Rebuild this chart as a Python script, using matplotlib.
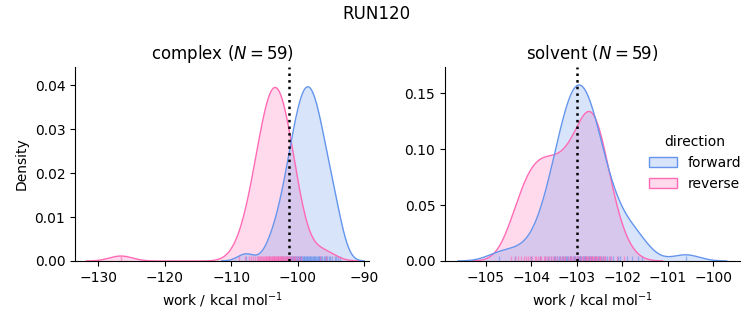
import numpy as np
import matplotlib
matplotlib.use("Agg")
import matplotlib.pyplot as plt
from matplotlib.patches import Patch
from matplotlib.transforms import blended_transform_factory

# ---------------- data (work values, kcal/mol) ----------------
complex_forward = [
    -107.8,
    -104.3, -103.57, -102.96, -102.54, -102.20, -101.91, -101.66, -101.44, -101.23, -101.05,
    -100.87, -100.70, -100.55, -100.40, -100.25, -100.11, -99.98, -99.85, -99.72, -99.60,
    -99.48, -99.36, -99.24, -99.12, -99.01, -98.90, -98.78, -98.67, -98.56,
    -98.44, -98.33, -98.22, -98.10, -97.99, -97.88, -97.76, -97.64, -97.52, -97.40,
    -97.28, -97.15, -97.02, -96.89, -96.75, -96.60, -96.45, -96.30, -96.13, -95.95,
    -95.77, -95.56, -95.34, -95.09, -94.80, -94.46, -94.2, -94.0, -93.7,
]
complex_reverse = [
    -126.6,
    -108.87, -107.89, -107.34, -106.97, -106.67, -106.42, -106.20, -106.00, -105.82, -105.65,
    -105.50, -105.35, -105.21, -105.08, -104.95, -104.83, -104.71, -104.60, -104.48, -104.37,
    -104.26, -104.16, -104.06, -103.95, -103.85, -103.75, -103.65, -103.55, -103.45,
    -103.35, -103.25, -103.15, -103.05, -102.95, -102.85, -102.74, -102.64, -102.54, -102.43,
    -102.32, -102.20, -102.09, -101.97, -101.85, -101.72, -101.59, -101.45, -101.30, -101.15,
    -100.98, -100.80, -100.60, -100.38, -100.13, -99.83, -99.46, -96.6, -95.8,
]
solvent_forward = [
    -104.72, -104.35,
    -104.00, -103.81, -103.70, -103.63, -103.56, -103.51, -103.47, -103.43, -103.39, -103.36,
    -103.33, -103.30, -103.27, -103.24, -103.21, -103.19, -103.16, -103.14, -103.12, -103.09,
    -103.07, -103.05, -103.03, -103.00, -102.98, -102.96,
    -102.94, -102.92, -102.90, -102.87, -102.85, -102.83, -102.81, -102.79, -102.76, -102.74,
    -102.71, -102.69, -102.66, -102.63, -102.60, -102.57, -102.54, -102.51, -102.47, -102.43,
    -102.39, -102.34, -102.27, -102.20, -102.10, -102.05, -101.90,
    -101.78, -101.66, -101.56, -100.6,
]
solvent_reverse = [
    -104.45, -104.35, -104.3, -104.22, -104.17, -104.12, -104.08, -104.04, -103.99, -103.93,
    -103.9, -103.86, -103.82, -103.78, -103.72, -103.69, -103.66, -103.61, -103.57, -103.53,
    -103.47, -103.43, -103.38, -103.33, -103.29, -103.25, -103.19, -103.16, -103.12,
    -103.08, -103.04, -103.0, -102.97, -102.93, -102.88, -102.86, -102.83, -102.79, -102.78,
    -102.75, -102.72, -102.7, -102.67, -102.66, -102.64, -102.61, -102.6, -102.58, -102.55,
    -102.52, -102.5, -102.49, -102.45, -102.41, -102.37, -102.3, -102.24, -102.12, -101.97,
]

phases = ["complex", "solvent"]
directions = ["forward", "reverse"]
samples = {
    ("complex", "forward"): complex_forward,
    ("complex", "reverse"): complex_reverse,
    ("solvent", "forward"): solvent_forward,
    ("solvent", "reverse"): solvent_reverse,
}
reference_lines = {"complex": -101.4, "solvent": -103.0}   # dotted vertical lines
group_weight = {"complex": 0.29, "solvent": 0.242}         # density normalisation
n_samples = {"complex": 59, "solvent": 59}

colors = {"forward": "#6495ED", "reverse": "#FF69B4"}


def kde(values, weight, gridsize=200, cut=3):
    v = np.asarray(values, dtype=float)
    bw = len(v) ** (-0.2) * v.std(ddof=1)
    grid = np.linspace(v.min() - cut * bw, v.max() + cut * bw, gridsize)
    dens = np.exp(-0.5 * ((grid[:, None] - v[None, :]) / bw) ** 2).sum(axis=1)
    dens /= len(v) * bw * np.sqrt(2 * np.pi)
    return grid, dens * weight


W, H = 753, 325
fig = plt.figure(figsize=(W / 100, H / 100), dpi=100)
axes = [
    fig.add_axes([75 / W, 1 - 261 / H, 294 / W, 194 / H]),
    fig.add_axes([445 / W, 1 - 261 / H, 295 / W, 194 / H]),
]
xlims = {"complex": (-133.5, -89.3), "solvent": (-105.9, -99.41)}
ylims = {"complex": (0, 0.0441), "solvent": (0, 0.1735)}
xticks = {"complex": [-130, -120, -110, -100, -90],
          "solvent": [-105, -104, -103, -102, -101, -100]}
yticks = {"complex": [0.00, 0.01, 0.02, 0.03, 0.04],
          "solvent": [0.00, 0.05, 0.10, 0.15]}

for ax, phase in zip(axes, phases):
    trans = blended_transform_factory(ax.transData, ax.transAxes)
    # rug
    for d in directions:
        vals = samples[(phase, d)]
        ax.vlines(vals, 0, 0.025, transform=trans, color=colors[d], lw=1, alpha=0.6)
    # densities (reverse first, forward on top)
    for d in reversed(directions):
        g, y = kde(samples[(phase, d)], group_weight[phase])
        ax.fill_between(g, y, color=colors[d], alpha=0.25, lw=0)
        ax.plot(g, y, color=colors[d], lw=1)
    ax.axvline(reference_lines[phase], color="black", ls=":", lw=1.8)
    ax.set_xlim(*xlims[phase])
    ax.set_ylim(*ylims[phase])
    ax.set_xticks(xticks[phase])
    ax.set_yticks(yticks[phase])
    ax.set_yticklabels([f"{t:.2f}" for t in yticks[phase]])
    ax.spines["top"].set_visible(False)
    ax.spines["right"].set_visible(False)
    ax.set_xlabel("work / kcal mol$^{-1}$", fontsize=10)
    ax.set_title(f"{phase} ($N = {n_samples[phase]}$)", fontsize=12)

axes[0].set_ylabel("Density", fontsize=10)

handles = [Patch(facecolor=matplotlib.colors.to_rgba(colors[d], 0.25),
                 edgecolor=colors[d], lw=1, label=d) for d in directions]
axes[1].legend(handles=handles, title="direction", loc="center right",
               frameon=False, fontsize=10, title_fontsize=10,
               bbox_to_anchor=(1.047, 0.505))

fig.suptitle("RUN120", fontsize=12, y=0.985)
fig.savefig("out.png", dpi=100)
